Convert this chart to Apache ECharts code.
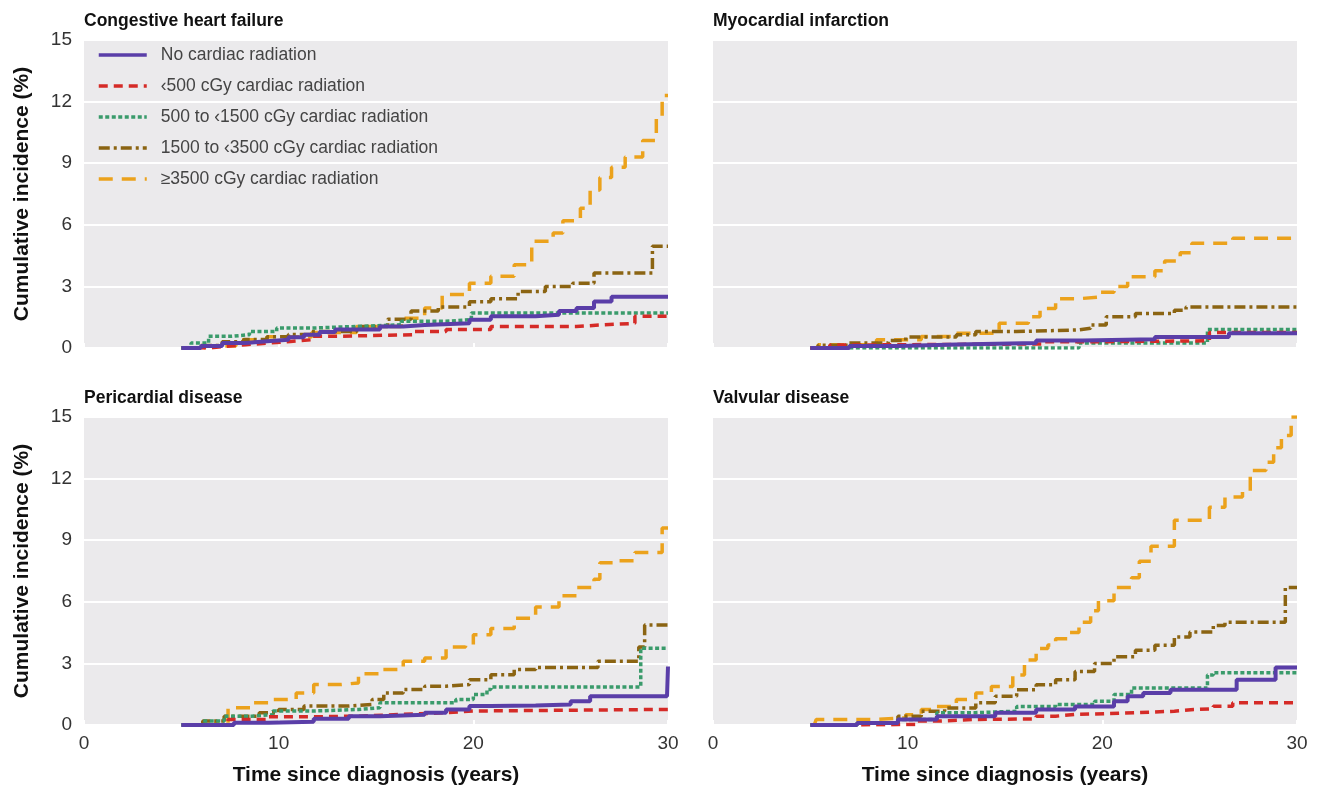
<!DOCTYPE html>
<html><head><meta charset="utf-8">
<script src="https://cdn.jsdelivr.net/npm/echarts@6/dist/echarts.min.js"></script>
<style>html,body{margin:0;padding:0;background:#fff}#c{width:1320px;height:789px}</style>
</head><body><div id="c"></div>
<script>
const panelTitles = ['Congestive heart failure','Myocardial infarction','Pericardial disease','Valvular disease'];
const groupNames = ['No cardiac radiation','\u2039500 cGy cardiac radiation','500 to \u20391500 cGy cardiac radiation','1500 to \u20393500 cGy cardiac radiation','\u22653500 cGy cardiac radiation'];
const xTickLabels = [0,10,20,30];
const yTickLabels = [0,3,6,9,12,15];
const xTitle = 'Time since diagnosis (years)';
const yTitle = 'Cumulative incidence (%)';

// Congestive heart failure: [years, %]
const chf_none = [[5,0],[6,0.1],[7.1,0.24],[8.3,0.33],[9.4,0.4],[10.5,0.52],[11.3,0.65],[12.1,0.78],[12.9,0.9],[15.2,1.05],[16.4,1.12],[17.5,1.2],[19.8,1.38],[20.9,1.55],[23.2,1.62],[24.4,1.8],[25.3,1.95],[26.2,2.27],[27.1,2.5],[30,2.5]];
const chf_lt500 = [[5.8,0],[6.4,0.08],[7.3,0.16],[8.3,0.24],[9.5,0.32],[10.6,0.4],[11.7,0.57],[12.9,0.65],[17,0.8],[18.6,0.9],[20.9,1.05],[25.3,1.13],[26.7,1.2],[28.3,1.55],[30,1.55]];
const chf_500 = [[5,0],[5.5,0.24],[6.4,0.57],[7.6,0.65],[8.5,0.8],[9.9,0.97],[11.7,1.05],[14,1.13],[16.3,1.3],[18.6,1.38],[19.9,1.7],[30,1.7]];
const chf_1500 = [[5,0],[6,0.12],[7.1,0.3],[8.2,0.42],[9.4,0.55],[10.5,0.66],[11.7,0.8],[14,1.05],[15.6,1.4],[16.8,1.8],[18.2,2.0],[19.8,2.25],[20.9,2.4],[22.3,2.75],[23.7,3.0],[25.1,3.15],[26.2,3.65],[29.2,4.95],[30,4.95]];
const chf_3500 = [[5,0],[6.2,0.1],[7.8,0.4],[9.4,0.55],[11.7,0.75],[14,1.05],[16.3,1.45],[17.5,1.95],[18.4,2.6],[19.8,3.15],[20.9,3.5],[22.1,4.05],[23,5.2],[24.1,5.6],[24.6,6.2],[25.5,6.8],[26,7.7],[26.5,8.3],[27.1,8.8],[27.8,9.3],[28.7,10.1],[29.4,11.2],[29.7,12.3],[30,12.3]];

// Myocardial infarction
const mi_none = [[5,0],[7,0.1],[9.5,0.17],[12.5,0.24],[16.6,0.37],[19,0.43],[22.7,0.53],[26.5,0.72],[30,0.72]];
const mi_lt500 = [[5,0],[6,0.15],[8,0.2],[17,0.3],[19,0.35],[25.5,0.75],[30,0.75]];
const mi_500 = [[5,0],[18.8,0.24],[25.4,0.9],[30,0.9]];
const mi_1500 = [[5,0],[5.4,0.13],[7,0.24],[9,0.37],[9.9,0.53],[12.5,0.64],[13.5,0.8],[15.6,0.88],[18.8,0.96],[19.4,1.12],[20.2,1.52],[21.7,1.68],[23.7,1.84],[24.3,2.0],[30,2.0]];
const mi_3500 = [[5,0],[5.4,0.16],[8.4,0.4],[10.7,0.56],[12.5,0.72],[14.7,1.2],[16.2,1.52],[16.8,1.92],[17.6,2.4],[18.8,2.48],[19.8,2.72],[20.6,3.0],[21.3,3.47],[22.7,3.76],[23.2,4.24],[24,4.64],[24.6,5.1],[26.7,5.35],[30,5.35]];

// Pericardial disease
const pd_none = [[5,0],[7.7,0.11],[9.5,0.16],[11.8,0.3],[13.6,0.43],[15.2,0.5],[17.5,0.6],[18.6,0.76],[19.8,0.92],[20.9,0.95],[23.2,1.0],[25,1.16],[26,1.4],[29.95,1.4],[30,2.85]];
const pd_lt500 = [[5.3,0],[7.4,0.27],[9.5,0.4],[11.8,0.43],[14.1,0.52],[16.4,0.6],[18.6,0.68],[20,0.76],[30,0.76]];
const pd_500 = [[5,0],[6.1,0.2],[7.2,0.43],[8.6,0.5],[9.7,0.68],[11.8,0.76],[14.1,0.84],[15.2,1.08],[19.1,1.24],[20,1.48],[20.7,1.73],[20.9,1.85],[28.6,3.74],[30,3.74]];
const pd_1500 = [[5,0],[6.1,0.2],[7.2,0.43],[9,0.6],[10,0.76],[11.3,0.92],[13.6,1.0],[14.8,1.24],[15.4,1.56],[16.4,1.73],[17.5,1.89],[18.6,1.97],[19.8,2.2],[20.9,2.45],[22.1,2.7],[23.2,2.8],[26.4,3.1],[28.5,3.8],[28.8,4.87],[30,4.87]];
const pd_3500 = [[5.15,0],[6.75,0.1],[7.4,0.84],[8.6,1.08],[9.7,1.24],[10.9,1.56],[11.8,1.97],[13.2,2.05],[14.1,2.5],[15.2,2.7],[16.4,3.1],[17.5,3.26],[18.6,3.8],[19.6,3.9],[20,4.4],[20.9,4.7],[22.1,5.2],[23.2,5.75],[24.4,6.3],[25.3,6.7],[26.2,7.1],[26.5,7.9],[27.3,8.0],[28.3,8.4],[29.7,9.6],[30,9.6]];

// Valvular disease
const vd_none = [[5,0],[7.4,0.1],[9.5,0.27],[11.5,0.43],[14.5,0.6],[16.6,0.75],[18.6,0.9],[20.6,1.16],[21.3,1.4],[22.1,1.56],[23.5,1.72],[26.9,2.2],[28.9,2.8],[30,2.8]];
const vd_lt500 = [[5.3,0],[7.4,0.03],[10.5,0.19],[11.5,0.27],[13.5,0.3],[16.6,0.43],[17.6,0.51],[18.6,0.6],[21.7,0.67],[23.7,0.75],[24.7,0.79],[25.7,0.91],[26.7,1.08],[30,1.08]];
const vd_500 = [[5,0],[7.4,0.1],[9.5,0.27],[11.5,0.6],[13.5,0.67],[15.6,0.9],[17.6,1.0],[19.6,1.16],[20.6,1.48],[21.5,1.8],[25.4,2.44],[25.7,2.55],[30,2.55]];
const vd_1500 = [[5,0],[7.4,0.1],[9.5,0.43],[10.7,0.67],[11.9,0.83],[13.5,1.08],[14.5,1.4],[15.6,1.72],[16.6,1.96],[17.6,2.2],[18.6,2.6],[19.6,3.0],[20.6,3.32],[21.7,3.64],[22.7,3.88],[23.7,4.29],[24.5,4.53],[25.7,4.85],[26.3,5.0],[29.4,6.7],[30,6.7]];
const vd_3500 = [[5.2,0],[5.3,0.27],[8.4,0.35],[9.9,0.5],[10.7,0.75],[11.5,0.9],[12.5,1.24],[13.5,1.56],[14.3,1.88],[15.4,2.44],[16,3.16],[16.6,3.72],[17.2,3.9],[17.6,4.2],[18.2,4.5],[18.8,5.0],[19.4,5.57],[19.8,6.05],[20.6,6.7],[21.5,7.17],[21.9,7.97],[22.5,8.7],[23.7,9.97],[25.5,10.6],[26.3,11.1],[27.2,11.4],[27.6,12.4],[28.4,12.8],[28.8,13.5],[29.2,14.1],[29.7,15.0],[30,15.0]];

const panelData = [
  [chf_none, chf_lt500, chf_500, chf_1500, chf_3500],
  [mi_none, mi_lt500, mi_500, mi_1500, mi_3500],
  [pd_none, pd_lt500, pd_500, pd_1500, pd_3500],
  [vd_none, vd_lt500, vd_500, vd_1500, vd_3500]
];

const colors = ['#5a3ea8','#d52b27','#3a9b6b','#8b6412','#eba21c'];
const dashes = ['solid',[9,6],[4,2.5],[11,4,3,4],[14,9]];
const widths = [4,3.5,3.5,3.5,3.5];
const drawOrder = [4,3,2,1,0];

const font = "'Liberation Sans','Arial',sans-serif";

const gridPos = [
  {left:84, top:40}, {left:713, top:40}, {left:84, top:417}, {left:713, top:417}
];

const chart = echarts.init(document.getElementById('c'), null, {renderer:'canvas'});
const grids = [], xAxes = [], yAxes = [], series = [], titles = [];
gridPos.forEach((g, i) => {
  grids.push({left:g.left, top:g.top, width:584, height:308, show:true, backgroundColor:'#ebeaec', borderWidth:0, containLabel:false});
  const isBottom = i >= 2, isLeft = i % 2 === 0;
  xAxes.push({
    type:'value', gridIndex:i, min:xTickLabels[0], max:xTickLabels[xTickLabels.length-1], interval:10,
    axisLine:{show:false}, splitLine:{show:false},
    axisTick:{show:true, inside:true, length:5, lineStyle:{color:'#ffffff', width:2}},
    axisLabel:{show:isBottom, margin:9, fontFamily:font, fontSize:19, color:'#333'},
    name:isBottom ? xTitle : '', nameLocation:'middle', nameGap:40,
    nameTextStyle:{fontFamily:font, fontWeight:'bold', fontSize:21, color:'#111'}
  });
  yAxes.push({
    type:'value', gridIndex:i, min:yTickLabels[0], max:yTickLabels[yTickLabels.length-1], interval:3,
    axisLine:{show:false}, axisTick:{show:false},
    splitLine:{show:true, lineStyle:{color:'#ffffff', width:2}},
    axisLabel:{show:isLeft, margin:12, fontFamily:font, fontSize:19, color:'#333'},
    name:isLeft ? yTitle : '', nameLocation:'middle', nameGap:51, nameRotate:90,
    nameTextStyle:{fontFamily:font, fontWeight:'bold', fontSize:21, color:'#111'}
  });
  titles.push({text:panelTitles[i], left:g.left - 5, top:isBottom ? 384 : 7,
    textStyle:{fontFamily:font, fontWeight:'bold', fontSize:17.5, color:'#111'}});
  drawOrder.forEach(k => {
    series.push({
      type:'line', name:groupNames[k], xAxisIndex:i, yAxisIndex:i,
      data:panelData[i][k], step:'end', symbol:'none', showSymbol:false, silent:true,
      lineStyle:{color:colors[k], width:widths[k], type:dashes[k], cap:'butt'},
      itemStyle:{color:colors[k], opacity:0}, animation:false
    });
  });
});

chart.setOption({
  animation:false,
  title:titles,
  grid:grids, xAxis:xAxes, yAxis:yAxes, series:series,
  legend:{
    data:groupNames, orient:'vertical', left:92, top:41,
    itemWidth:48, itemHeight:14, itemGap:13, selectedMode:false,
    itemStyle:{opacity:0},
    lineStyle:{width:3.5},
    textStyle:{fontFamily:font, fontSize:17.5, color:'#444', lineHeight:18, padding:[0,0,0,9]}
  }
});
</script></body></html>
